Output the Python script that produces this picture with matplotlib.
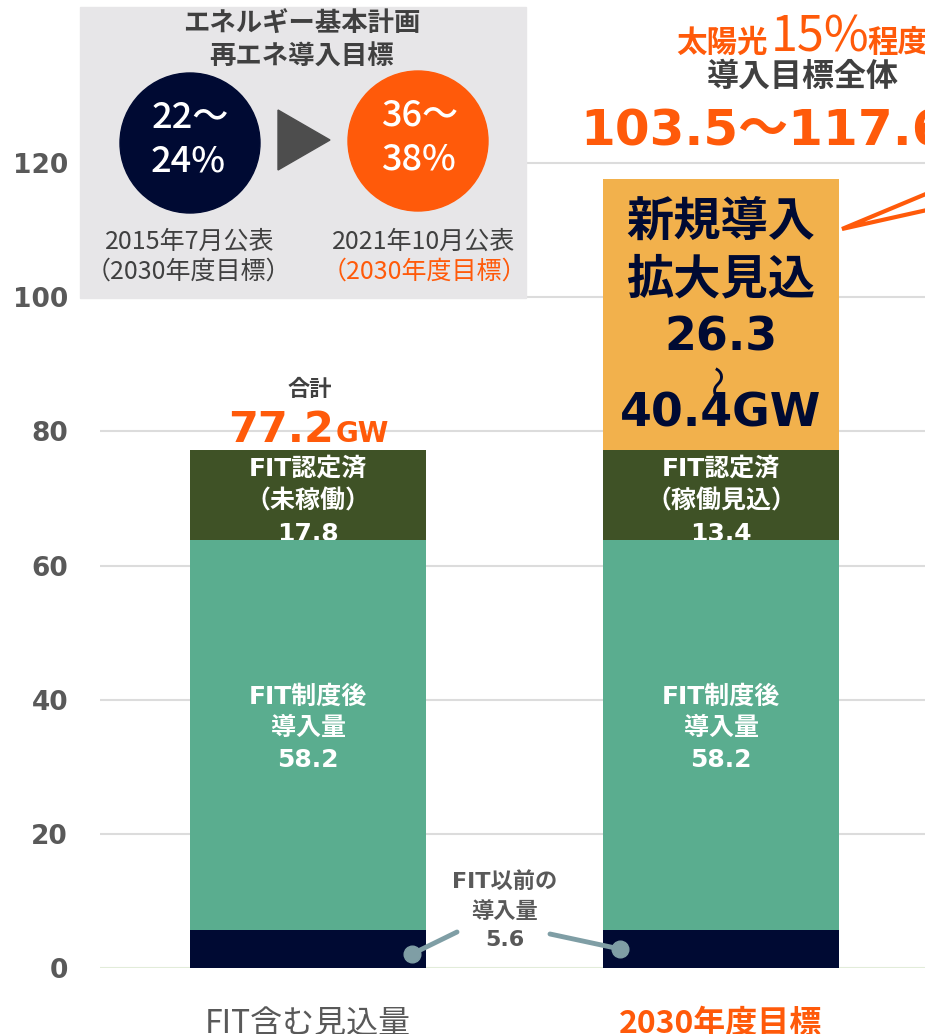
import matplotlib.pyplot as plt
from matplotlib.patches import Circle, Rectangle, Polygon

plt.rcParams['font.family'] = ['DejaVu Sans', 'Noto Sans CJK JP']

# Data (GW)
categories = ['FIT含む見込量', '2030年度目標']
before_fit = [5.6, 5.6]
after_fit = [58.2, 58.2]
# the chart draws both FIT-approved blocks up to the 77.2 GW total
bar_totals = [77.2, 77.2]
approved_labels = [17.8, 13.4]
approved_notes = ['（未稼働）', '（稼働見込）']
new_intro = [0, 40.4]
new_intro_low = 26.3
total_now = 77.2
target_low = 103.5
target_high = 117.6
plan_2015 = ['22', '24']
plan_2021 = ['36', '38']
solar_share = 15
yticks = [0, 20, 40, 60, 80, 100, 120]

# Colours
navy = '#000a33'
teal = '#5aad8f'
dkgreen = '#3f5226'
amber = '#f2b14c'
orange = '#ff5a0a'
gray = '#595959'
dkgray = '#404040'
jp = ['Noto Sans CJK JP', 'DejaVu Sans']

W, H = 925, 1034
fig = plt.figure(figsize=(W / 100, H / 100), dpi=100)
ax = fig.add_axes([100 / W, 66 / H, 825 / W, 968 / H])
ax.set_xlim(-0.504, 1.494)
ax.set_ylim(0, 144.3)

x = [0, 1]
width = 0.571
bottom2 = [a + b for a, b in zip(before_fit, after_fit)]
approved = [t - b for t, b in zip(bar_totals, bottom2)]
bottom3 = bar_totals

ax.bar(x, before_fit, width, color=navy, zorder=3)
ax.bar(x, after_fit, width, bottom=before_fit, color=teal, zorder=3)
ax.bar(x, approved, width, bottom=bottom2, color=dkgreen, zorder=2)
ax.bar(x, new_intro, width, bottom=bottom3, color=amber, zorder=2)

# axis styling
ax.set_yticks(yticks)
ax.set_xticks([])
ax.tick_params(axis='y', length=0, pad=23, labelsize=19, labelcolor=gray)
for lbl in ax.get_yticklabels():
    lbl.set_fontweight('bold')
for s in ax.spines.values():
    s.set_visible(False)
ax.grid(axis='y', color='#dcdcdc', lw=1.5)
ax.set_axisbelow(True)
ax.axhline(0, color='#e3efd9', lw=2, zorder=1)

# labels inside bars (the last line is partly hidden by the teal block)
for i in x:
    top = bottom3[i]
    ax.text(i, top - 2.8, 'FIT認定済', ha='center', va='center', color='white',
            fontsize=18, fontweight='bold', zorder=2.5)
    ax.text(i, top - 7.7, approved_notes[i], ha='center', va='center', color='white',
            fontsize=18, fontweight='bold', family=jp, zorder=2.5)
    ax.text(i, top - 12.55, '{:.1f}'.format(approved_labels[i]), ha='center', va='center',
            color='white', fontsize=18, fontweight='bold', zorder=2.5)
    ax.text(i, 40.4, 'FIT制度後', ha='center', va='center', color='white',
            fontsize=18, fontweight='bold', zorder=4)
    ax.text(i, 35.8, '導入量', ha='center', va='center', color='white',
            fontsize=18, fontweight='bold', family=jp, zorder=4)
    ax.text(i, 31.0, '{:.1f}'.format(after_fit[i]), ha='center', va='center',
            color='white', fontsize=18, fontweight='bold', zorder=4)

# new intro text in amber segment
for yy, t in [(111.2, '新規導入'), (102.7, '拡大見込')]:
    ax.text(1, yy, t, ha='center', va='center', color=navy, fontsize=34,
            fontweight='bold', family=jp, zorder=4)
ax.text(1, 93.9, '{:.1f}'.format(new_intro_low), ha='center', va='center', color=navy,
        fontsize=33, fontweight='bold', zorder=4)
ax.text(1, 87.4, '〜', ha='center', va='center', color=navy, fontsize=26,
        rotation=90, family=jp, zorder=3.5)
ax.text(1, 82.6, '{:.1f}GW'.format(new_intro[1]), ha='center', va='center', color=navy,
        fontsize=33, fontweight='bold', zorder=4)

# overlay in pixel coordinates
ov = fig.add_axes([0, 0, 1, 1])
ov.set_xlim(0, W)
ov.set_ylim(H, 0)
ov.axis('off')

# energy plan box
ov.add_patch(Rectangle((80, 7), 446, 291, color='#e7e6e8', zorder=1))
ov.text(302, 24, 'エネルギー基本計画', ha='center', va='center', color=dkgray,
        fontsize=19, fontweight='bold', family=jp)
ov.text(302, 57, '再エネ導入目標', ha='center', va='center', color=dkgray,
        fontsize=19, fontweight='bold', family=jp)
ov.add_patch(Circle((190, 143), 70, color=navy, zorder=2))
ov.add_patch(Circle((418, 141), 70, color=orange, zorder=2))
ov.text(190, 118, '{}〜'.format(plan_2015[0]), ha='center', va='center', color='white',
        fontsize=26, fontweight='medium', family=jp, zorder=3)
ov.text(188, 161, '{}%'.format(plan_2015[1]), ha='center', va='center', color='white',
        fontsize=26, fontweight='medium', family=jp, zorder=3)
ov.text(420, 116, '{}〜'.format(plan_2021[0]), ha='center', va='center', color='white',
        fontsize=26, fontweight='medium', family=jp, zorder=3)
ov.text(418, 159, '{}%'.format(plan_2021[1]), ha='center', va='center', color='white',
        fontsize=26, fontweight='medium', family=jp, zorder=3)
ov.add_patch(Polygon([(278, 110), (278, 170), (330, 140)], color='#4d4d4d', zorder=2))
ov.text(190, 242, '2015年7月公表', ha='center', va='center', color=dkgray,
        fontsize=18, family=jp)
ov.text(188, 272, '（2030年度目標）', ha='center', va='center', color=dkgray,
        fontsize=18, family=jp)
ov.text(424, 242, '2021年10月公表', ha='center', va='center', color=dkgray,
        fontsize=18, family=jp)
ov.text(424, 272, '（2030年度目標）', ha='center', va='center', color=orange,
        fontsize=18, family=jp)

# top right target
ov.text(676, 52, '太陽光', ha='left', va='baseline', color=orange, fontsize=22,
        fontweight='bold', family=jp)
ov.text(771, 52, '{}%'.format(solar_share), ha='left', va='baseline', color=orange,
        fontsize=35, family=jp)
ov.text(867, 52, '程度', ha='left', va='baseline', color=orange, fontsize=22,
        fontweight='bold', family=jp)
ov.text(803, 77, '導入目標全体', ha='center', va='center', color=dkgray, fontsize=23,
        fontweight='bold', family=jp)
ov.text(580, 146, '{:.1f}〜{:.1f}GW'.format(target_low, target_high), ha='left',
        va='baseline', color=orange, fontsize=36, fontweight='bold')

# callout wedge
ov.add_patch(Polygon([(842, 229), (945, 206), (945, 186)], closed=True,
                     facecolor='white', edgecolor=orange, lw=3, zorder=3))

# total label
ov.text(310, 389, '合計', ha='center', va='center', color=dkgray, fontsize=16,
        fontweight='bold', family=jp)
ov.text(334, 442, '{:.1f}'.format(total_now), ha='right', va='baseline', color=orange,
        fontsize=31, fontweight='bold')
ov.text(336, 442, 'GW', ha='left', va='baseline', color=orange, fontsize=20,
        fontweight='bold')

# before FIT label with connectors
ov.text(505, 882, 'FIT以前の', ha='center', va='center', color=gray, fontsize=16,
        fontweight='bold')
ov.text(505, 911, '導入量', ha='center', va='center', color=gray, fontsize=16,
        fontweight='bold', family=jp)
ov.text(505, 940, '{:.1f}'.format(before_fit[0]), ha='center', va='center', color=gray,
        fontsize=16, fontweight='bold')
ov.plot([457, 412], [932, 954], color='#7f9ea5', lw=3.5, solid_capstyle='round')
ov.plot([550, 620], [934, 949], color='#7f9ea5', lw=3.5, solid_capstyle='round')
ov.plot([412, 620], [954, 949], 'o', color='#7f9ea5', ms=12, ls='none')

# category labels
ov.text(308, 1024, categories[0], ha='center', va='center', color=gray, fontsize=23,
        family=jp)
ov.text(721, 1024, categories[1], ha='center', va='center', color=orange, fontsize=23,
        fontweight='bold', family=jp)

fig.savefig('out.png', dpi=100)
